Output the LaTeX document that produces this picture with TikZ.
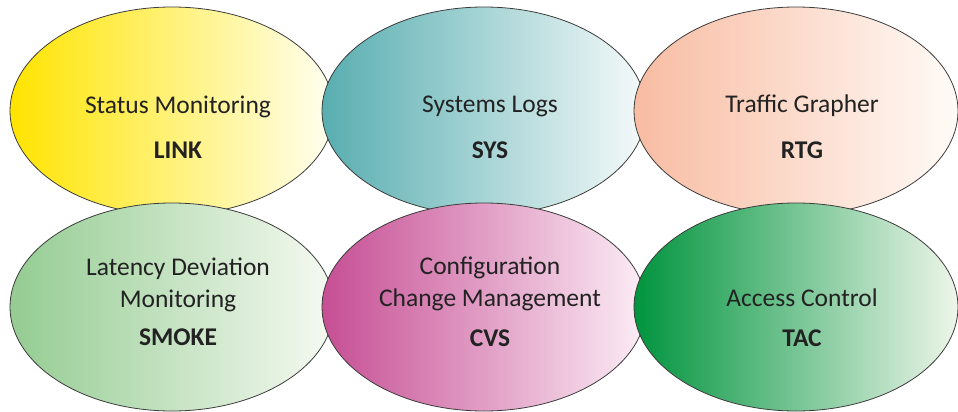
\documentclass[tikz,border=0pt]{standalone}
\usepackage{fontspec}
\setmainfont{Carlito}
\usetikzlibrary{shapes.geometric}

% fill colours: dark left edge, pale right edge
\definecolor{yelL}{RGB}{255,228,0}
\definecolor{yelR}{RGB}{255,255,242}
\definecolor{tealL}{RGB}{88,174,176}
\definecolor{tealR}{RGB}{246,250,250}
\definecolor{peachL}{RGB}{248,188,162}
\definecolor{peachR}{RGB}{255,251,247}
\definecolor{sageL}{RGB}{148,204,146}
\definecolor{sageR}{RGB}{246,250,242}
\definecolor{plumL}{RGB}{198,78,148}
\definecolor{plumR}{RGB}{252,238,246}
\definecolor{greenL}{RGB}{0,148,62}
\definecolor{greenR}{RGB}{238,246,234}
\definecolor{ink}{RGB}{34,34,34}
\definecolor{rim}{RGB}{60,60,60}

\tikzset{
  blob/.style={ellipse, draw=rim, line width=0.8pt, inner sep=0pt,
               minimum width=324pt, minimum height=208pt},
  txt/.style={anchor=base, inner sep=0pt, text=ink, font=\fontsize{25.5pt}{30pt}\selectfont},
  key/.style={txt, font=\fontsize{25.5pt}{30pt}\selectfont\bfseries}
}

\begin{document}
\begin{tikzpicture}[x=1pt, y=-1pt]
\useasboundingbox (0,0) rectangle (958,412);

% top row
\node[blob, left color=yelL, right color=yelR] (link) at (172,111) {};
\node[blob, left color=tealL, right color=tealR] (sys) at (484,111) {};
\node[blob, left color=peachL, right color=peachR] (rtg) at (796,111) {};

% bottom row
\node[blob, left color=sageL, right color=sageR] (smoke) at (172,307) {};
\node[blob, left color=plumL, right color=plumR] (cvs) at (484,307) {};
\node[blob, left color=greenL, right color=greenR] (tac) at (796,307) {};

% labels of the top row
\node[txt] (linkA) at ([xshift=6pt, yshift=-2pt]link.center) {Status Monitoring};
\node[key] (linkB) at ([xshift=6pt, yshift=-47pt]link.center) {LINK};
\node[txt] (sysA)  at ([xshift=6pt, yshift=-1pt]sys.center) {Systems Logs};
\node[key] (sysB)  at ([xshift=6pt, yshift=-47pt]sys.center) {SYS};
\node[txt] (rtgA)  at ([xshift=6pt, yshift=-1pt]rtg.center) {Traffic Grapher};
\node[key] (rtgB)  at ([xshift=6pt, yshift=-47pt]rtg.center) {RTG};

% labels of the bottom row
\node[txt] (smokeA) at ([xshift=6pt, yshift=32pt]smoke.center) {Latency Deviation};
\node[txt] (smokeB) at ([xshift=6pt, yshift=0pt]smoke.center) {Monitoring};
\node[key] (smokeC) at ([xshift=6pt, yshift=-38pt]smoke.center) {SMOKE};
\node[txt] (cvsA) at ([xshift=6pt, yshift=33pt]cvs.center) {Configuration};
\node[txt] (cvsB) at ([xshift=6pt, yshift=1pt]cvs.center) {Change Management};
\node[key] (cvsC) at ([xshift=6pt, yshift=-39pt]cvs.center) {CVS};
\node[txt] (tacA) at ([xshift=6pt, yshift=1pt]tac.center) {Access Control};
\node[key] (tacB) at ([xshift=6pt, yshift=-39pt]tac.center) {TAC};
\end{tikzpicture}
\end{document}
